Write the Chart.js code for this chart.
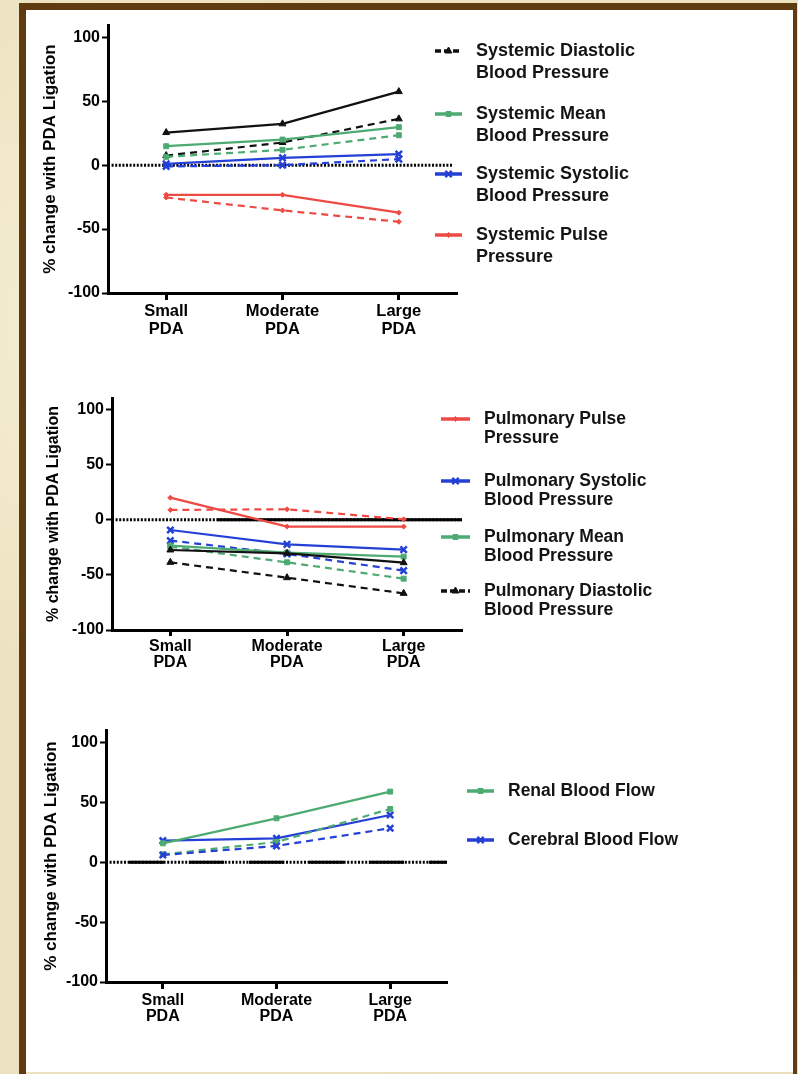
<!DOCTYPE html>
<html><head><meta charset="utf-8">
<script src="https://cdn.jsdelivr.net/npm/chart.js@4.4.1/dist/chart.umd.min.js"></script>
<style>
html,body{margin:0;padding:0;}
body{width:798px;height:1074px;overflow:hidden;position:relative;
 background:#ece2c1;
 background-image:radial-gradient(circle at 20% 30%, rgba(255,250,225,0.6), rgba(0,0,0,0) 40%),
 radial-gradient(circle at 80% 70%, rgba(220,205,160,0.5), rgba(0,0,0,0) 45%);}
#frame{position:absolute;left:19px;top:3px;width:767px;height:1100px;border-left:7px solid #5e3b10;border-top:7px solid #5e3b10;border-right:4px solid #5e3b10;}
#panel{position:absolute;left:26px;top:10px;width:767px;height:1062px;background:#fff;}
canvas{position:absolute;}
</style></head><body>
<div id="frame"></div><div id="panel"></div>
<canvas id="c1" width="764" height="340" style="left:26px;top:12px"></canvas>
<canvas id="c2" width="764" height="300" style="left:26px;top:385px"></canvas>
<canvas id="c3" width="764" height="345" style="left:26px;top:717px"></canvas>
<script>
// ---------- DATA ----------
const categories = [["Small","PDA"],["Moderate","PDA"],["Large","PDA"]];
const yTickValues = [-100,-50,0,50,100];
const yAxisTitle = "% change with PDA Ligation";

// Chart 1: systemic
const sysDiastolicSolid  = [25.5, 32.3, 57.5];
const sysDiastolicDashed = [7.5, 17.7, 36.2];
const sysMeanSolid       = [14.8, 20.0, 29.7];
const sysMeanDashed      = [6.5, 12.0, 23.4];
const sysSystolicSolid   = [1.0, 5.7, 8.6];
const sysSystolicDashed  = [-1.0, 0.0, 4.7];
const sysPulseSolid      = [-23.2, -23.2, -37.2];
const sysPulseDashed     = [-25.3, -35.4, -44.3];
const sysLegendLabels = [["Systemic Diastolic","Blood Pressure"],["Systemic Mean","Blood Pressure"],["Systemic Systolic","Blood Pressure"],["Systemic Pulse","Pressure"]];

// Chart 2: pulmonary
const pulPulseSolid      = [19.9, -6.3, -6.3];
const pulPulseDashed     = [8.8, 9.4, 0.3];
const pulSystolicSolid   = [-9.4, -22.4, -27.2];
const pulSystolicDashed  = [-19.0, -31.1, -46.2];
const pulMeanSolid       = [-23.6, -29.9, -33.5];
const pulMeanDashed      = [-24.5, -38.7, -53.5];
const pulDiastolicSolid  = [-27.5, -30.5, -39.0];
const pulDiastolicDashed = [-38.7, -52.6, -66.8];
const pulLegendLabels = [["Pulmonary Pulse","Pressure"],["Pulmonary Systolic","Blood Pressure"],["Pulmonary Mean","Blood Pressure"],["Pulmonary Diastolic","Blood Pressure"]];

// Chart 3: flow
const renalSolid     = [15.9, 36.8, 59.1];
const renalDashed    = [6.7, 17.0, 44.6];
const cerebralSolid  = [18.1, 20.0, 39.6];
const cerebralDashed = [6.1, 13.7, 28.5];
const flowLegendLabels = [["Renal Blood Flow"],["Cerebral Blood Flow"]];

// ---------- STYLES ----------
const FONT = "'Liberation Sans', Arial, sans-serif";
const BLACK = '#111111', GREEN = '#4dab72', BLUE = '#2540d6', RED = '#ee4a44';
const S = {
  black: {color: BLACK, pointStyle: 'triangle', radius: 4, pbw: 1},
  green: {color: GREEN, pointStyle: 'rect', radius: 3.5, pbw: 1},
  blue:  {color: BLUE,  pointStyle: 'crossRot', radius: 4.5, pbw: 2.5},
  red:   {color: RED,   pointStyle: 'rectRot', radius: 2.5, pbw: 1}
};
const DASH = [7,5];

function ds(data, st, dashed) {
  return {data, borderColor: st.color, backgroundColor: st.color,
    pointStyle: st.pointStyle, pointRadius: st.radius, pointHoverRadius: st.radius,
    pointBorderWidth: st.pbw, borderWidth: 2.2, borderDash: dashed ? DASH : [],
    tension: 0, fill: false};
}

const zeroPlugin = {
  id: 'zeroLine',
  beforeDatasetsDraw(chart, args, o) {
    const {ctx, chartArea: a, scales: {y}} = chart;
    const y0 = y.getPixelForValue(0);
    const x0 = a.left, x1 = a.right - (o.endInset || 0);
    const line = (p, q) => { ctx.beginPath(); ctx.moveTo(p, y0); ctx.lineTo(q, y0); ctx.stroke(); };
    ctx.save();
    ctx.strokeStyle = '#000'; ctx.lineWidth = 3;
    ctx.setLineDash([2, 1.6]); line(x0, x1);
    if (o.solidFrom != null) { ctx.setLineDash([]); line(x0 + (x1 - x0) * o.solidFrom, x1); }
    if (o.dashPattern) { ctx.setLineDash(o.dashPattern); ctx.lineDashOffset = o.dashOffset || 0; line(x0, x1); }
    ctx.restore();
  }
};

const legendPlugin = {
  id: 'sideLegend',
  afterDraw(chart, args, o) {
    const ctx = chart.ctx;
    ctx.save();
    o.items.forEach((it, i) => {
      const y = o.ys[i];
      ctx.strokeStyle = it.st.color; ctx.fillStyle = it.st.color;
      ctx.lineWidth = 3.5;
      ctx.setLineDash(it.dashed ? [6, 3] : []);
      ctx.beginPath(); ctx.moveTo(o.x1, y); ctx.lineTo(o.x2, y); ctx.stroke();
      ctx.setLineDash([]);
      ctx.lineWidth = it.st.pbw;
      Chart.helpers.drawPoint(ctx, {pointStyle: it.st.pointStyle, radius: it.st.radius, borderWidth: it.st.pbw, rotation: 0}, (o.x1 + o.x2) / 2, y);
      ctx.fillStyle = '#141414'; ctx.font = o.font; ctx.textBaseline = 'middle'; ctx.textAlign = 'left';
      it.lines.forEach((t, j) => ctx.fillText(t, o.textX, y + j * o.lineGap));
    });
    ctx.restore();
  }
};

function yScale(max, yw, titleSize, titlePad) {
  return {
    min: -100, max,
    afterBuildTicks: s => { s.ticks = yTickValues.map(v => ({value: v})); },
    afterFit: s => { s.width = yw; },
    border: {display: true, color: '#000', width: 3},
    grid: {display: true, drawOnChartArea: false, drawTicks: true, tickLength: 6, tickWidth: 2, tickColor: '#000'},
    ticks: {color: '#000', font: {family: FONT, size: 16, weight: 'bold'}, padding: 2, callback: v => String(v)},
    title: {display: true, text: yAxisTitle, color: '#000', font: {family: FONT, size: titleSize, weight: 'bold'}, padding: {top: titlePad, bottom: 0}}
  };
}
function xScale(xh, fontSize, lh, tickLen, pad) {
  return {
    type: 'category', offset: true,
    afterFit: s => { s.height = xh; },
    border: {display: true, color: '#000', width: 3},
    grid: {display: true, offset: false, drawOnChartArea: false, tickLength: tickLen, tickWidth: 3, tickColor: '#000'},
    ticks: {color: '#000', font: {family: FONT, size: fontSize, weight: 'bold', lineHeight: lh}, padding: pad, maxRotation: 0, autoSkip: false}
  };
}
function makeChart(id, datasets, cfg) {
  return new Chart(document.getElementById(id), {
    type: 'line',
    data: {labels: categories, datasets},
    options: {
      responsive: false, animation: false, devicePixelRatio: 1,
      layout: {padding: cfg.padding},
      scales: {x: cfg.x, y: cfg.y},
      plugins: {legend: {display: false}, tooltip: {enabled: false}, zeroLine: cfg.zero, sideLegend: cfg.legend}
    },
    plugins: [zeroPlugin, legendPlugin]
  });
}

// Chart 1
makeChart('c1', [
  ds(sysPulseDashed, S.red, true), ds(sysPulseSolid, S.red, false),
  ds(sysSystolicDashed, S.blue, true), ds(sysSystolicSolid, S.blue, false),
  ds(sysMeanDashed, S.green, true), ds(sysMeanSolid, S.green, false),
  ds(sysDiastolicDashed, S.black, true), ds(sysDiastolicSolid, S.black, false)
], {
  padding: {left: 0, top: 13, right: 764 - 431, bottom: 9},
  x: xScale(50, 16.5, 1.12, 7, 2),
  y: yScale(109.6, 82, 17, 14),
  zero: {endInset: 5},
  legend: {x1: 409, x2: 436, textX: 450, ys: [39, 102, 162, 223], lineGap: 22,
    font: "bold 18px " + FONT,
    items: [
      {lines: sysLegendLabels[0], st: S.black, dashed: true},
      {lines: sysLegendLabels[1], st: S.green},
      {lines: sysLegendLabels[2], st: S.blue},
      {lines: sysLegendLabels[3], st: S.red}
    ]}
});

// Chart 2
makeChart('c2', [
  ds(pulDiastolicDashed, S.black, true), ds(pulDiastolicSolid, S.black, false),
  ds(pulMeanDashed, S.green, true), ds(pulMeanSolid, S.green, false),
  ds(pulSystolicDashed, S.blue, true), ds(pulSystolicSolid, S.blue, false),
  ds(pulPulseDashed, S.red, true), ds(pulPulseSolid, S.red, false)
], {
  padding: {left: 0, top: 13, right: 764 - 436, bottom: 10},
  x: xScale(45, 16, 1.03, 6, 2),
  y: yScale(110.2, 86, 16, 18),
  zero: {solidFrom: 0.3},
  legend: {x1: 415, x2: 444, textX: 458, ys: [34, 96, 152, 206], lineGap: 19,
    font: "bold 17.5px " + FONT,
    items: [
      {lines: pulLegendLabels[0], st: S.red},
      {lines: pulLegendLabels[1], st: S.blue},
      {lines: pulLegendLabels[2], st: S.green},
      {lines: pulLegendLabels[3], st: S.black, dashed: true}
    ]}
});

// Chart 3
makeChart('c3', [
  ds(cerebralDashed, S.blue, true), ds(renalDashed, S.green, true),
  ds(renalSolid, S.green, false), ds(cerebralSolid, S.blue, false)
], {
  padding: {left: 0, top: 13, right: 764 - 421, bottom: 30},
  x: xScale(50, 16, 1.04, 7, 3),
  y: yScale(110.6, 80, 17, 15),
  zero: {dashPattern: [35, 25], dashOffset: 37},
  legend: {x1: 441, x2: 468, textX: 482, ys: [74, 123], lineGap: 20,
    font: "bold 17.5px " + FONT,
    items: [
      {lines: flowLegendLabels[0], st: S.green},
      {lines: flowLegendLabels[1], st: S.blue}
    ]}
});
</script>
</body></html>
